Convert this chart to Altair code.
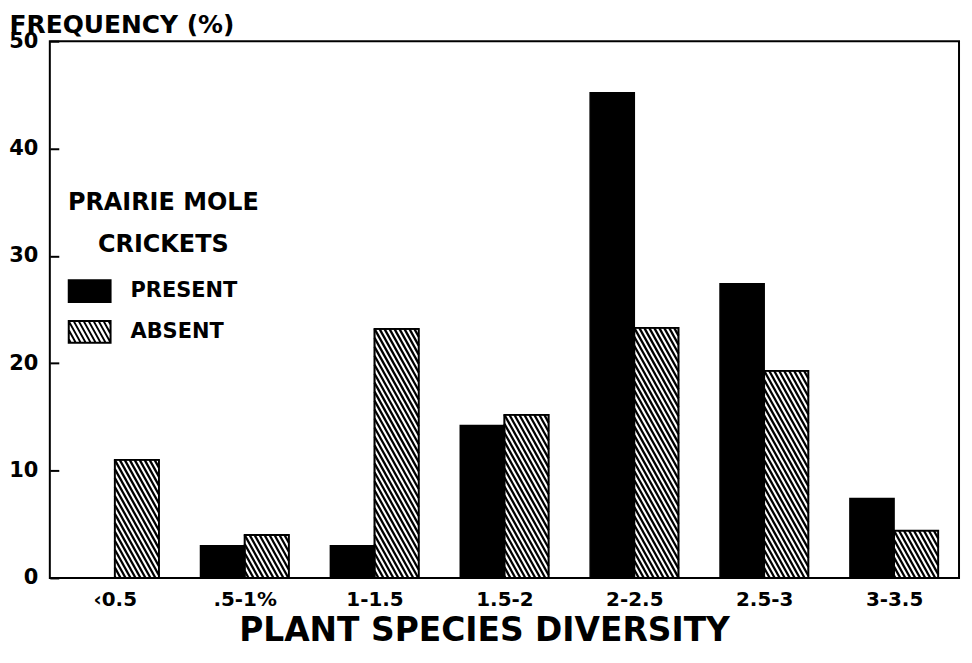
import json
import math
import altair as alt
import pandas as pd

# ---------------- data ----------------
categories = ["‹0.5", ".5-1%", "1-1.5", "1.5-2", "2-2.5", "2.5-3", "3-3.5"]
present = [0, 3, 3, 14.2, 45.2, 27.4, 7.4]
absent = [11, 4, 23.2, 15.2, 23.3, 19.3, 4.4]
groups = ["PRESENT", "ABSENT"]
y_ticks = [0, 10, 20, 30, 40, 50]

# ---------------- layout / style ----------------
W, H = 913, 539
Y_MAX = 50
BAR_START, BAR_MID, BAR_END = 0.16, 0.5, 0.84   # positions inside a category slot
PX_X = W / len(categories)
PX_Y = H / Y_MAX
HATCH_SPACING = 5.0   # px between stripes (horizontal)
HATCH_SLOPE = 1.8     # px down per px right
FONT = "DejaVu Sans"

rows = []
for i, cat in enumerate(categories):
    rows.append({"cat": cat, "group": "PRESENT", "value": present[i],
                 "x0": i + BAR_START, "x1": i + BAR_MID})
    rows.append({"cat": cat, "group": "ABSENT", "value": absent[i],
                 "x0": i + BAR_MID, "x1": i + BAR_END})
bars = pd.DataFrame(rows)


def hatch_segments(w, h, spacing, slope):
    """Stripe segments inside a w x h box (y down from top), in box units."""
    segs = []
    k0 = math.floor(-h / slope / spacing) - 1
    k1 = math.ceil(w / spacing) + 1
    for k in range(k0, k1 + 1):
        c = k * spacing
        ys = max(0.0, -slope * c)
        ye = min(h, slope * (w - c))
        if ye - ys > 0.3:
            segs.append((c + ys / slope, ys, c + ye / slope, ye))
    return segs


hatch_rows = []
for i, v in enumerate(absent):
    w_px = (BAR_END - BAR_MID) * PX_X
    h_px = v * PX_Y
    for xa, ya, xb, yb in hatch_segments(w_px, h_px, HATCH_SPACING, HATCH_SLOPE):
        hatch_rows.append({"hx": i + BAR_MID + xa / PX_X, "hy": v - ya / PX_Y,
                           "hx2": i + BAR_MID + xb / PX_X, "hy2": v - yb / PX_Y})
hatch = pd.DataFrame(hatch_rows)

# legend symbols (custom SVG paths in the [-1, 1] unit box)
HALF_H = 0.52
present_path = f"M-1,{-HALF_H}H1V{HALF_H}H-1Z"
unit = 21.0
leg_segs = hatch_segments(2 * unit, 2 * HALF_H * unit, HATCH_SPACING, HATCH_SLOPE)
absent_path = present_path + "".join(
    f"M{xa/unit-1:.3f},{ya/unit-HALF_H:.3f}L{xb/unit-1:.3f},{yb/unit-HALF_H:.3f}"
    for xa, ya, xb, yb in leg_segs)

legend_df = pd.DataFrame({"group": groups})

x_scale = alt.Scale(domain=[0, len(categories)], nice=False, zero=False)
y_scale = alt.Scale(domain=[0, Y_MAX], nice=False)

label_expr = f"{json.dumps(categories)}[floor(datum.value)]"

x_axis = alt.Axis(values=[i + 0.5 for i in range(len(categories))],
                  labelExpr=label_expr, ticks=False, domain=False, grid=False,
                  labelFont=FONT, labelFontSize=20, labelFontWeight="bold",
                  labelColor="black", labelPadding=12,
                  title="PLANT SPECIES DIVERSITY", titleFont=FONT,
                  titleFontSize=33, titleFontWeight="bold", titleColor="black",
                  titleBaseline="alphabetic", titleX=436, titleY=63)
y_axis = alt.Axis(values=y_ticks, offset=-9, tickSize=9, tickWidth=2,
                  tickColor="black", domain=False, grid=False,
                  labelFont=FONT, labelFontSize=21, labelFontWeight="bold",
                  labelColor="black", labelPadding=12,
                  title="FREQUENCY (%)", titleFont=FONT, titleFontSize=25,
                  titleFontWeight="bold", titleColor="black", titleAngle=0,
                  titleAlign="left", titleBaseline="alphabetic",
                  titleX=-50, titleY=-8.5)

base = alt.Chart(bars)

present_bars = base.transform_filter(alt.datum.group == "PRESENT").mark_bar(
    color="black", stroke="black", strokeWidth=1.5).encode(
    x=alt.X("x0:Q", scale=x_scale, axis=x_axis),
    x2="x1:Q",
    y=alt.Y("value:Q", scale=y_scale, axis=y_axis),
    y2=alt.datum(0),
)

absent_bars = base.transform_filter(alt.datum.group == "ABSENT").mark_bar(
    fill="white", stroke="black", strokeWidth=1.5).encode(
    x=alt.X("x0:Q", scale=x_scale), x2="x1:Q",
    y=alt.Y("value:Q", scale=y_scale), y2=alt.datum(0),
)

hatch_lines = alt.Chart(hatch).mark_rule(color="black", strokeWidth=2.3).encode(
    x=alt.X("hx:Q", scale=x_scale), x2="hx2:Q",
    y=alt.Y("hy:Q", scale=y_scale), y2="hy2:Q",
)

absent_outline = base.transform_filter(alt.datum.group == "ABSENT").mark_bar(
    fillOpacity=0, stroke="black", strokeWidth=1.8).encode(
    x=alt.X("x0:Q", scale=x_scale), x2="x1:Q",
    y=alt.Y("value:Q", scale=y_scale), y2=alt.datum(0),
)

legend = alt.Legend(
    orient="none", legendX=18, legendY=150,
    title=["PRAIRIE MOLE", "CRICKETS"], titleFont=FONT, titleFontSize=24,
    titleFontWeight="bold", titleColor="black", titleLineHeight=43,
    titleAlign="center", titleAnchor="middle", titlePadding=12,
    titleLimit=500,
    labelFont=FONT, labelFontSize=21, labelFontWeight="bold",
    labelColor="black", labelOffset=19, labelLimit=400, symbolSize=1764,
    symbolOffset=-21,
    symbolStrokeWidth=2, rowPadding=4, symbolOpacity=1,
)

legend_layer = alt.Chart(legend_df).mark_point(filled=True, opacity=0).encode(
    x=alt.value(0), y=alt.value(0),
    shape=alt.Shape("group:N", sort=groups, legend=legend,
                    scale=alt.Scale(domain=groups, range=[present_path, absent_path])),
    fill=alt.Fill("group:N", sort=groups, legend=legend,
                  scale=alt.Scale(domain=groups, range=["black", "white"])),
    stroke=alt.Stroke("group:N", sort=groups, legend=legend,
                      scale=alt.Scale(domain=groups, range=["black", "black"])),
)

chart = alt.layer(
    absent_bars, hatch_lines, absent_outline, present_bars, legend_layer
).properties(
    width=W, height=H,
    autosize=alt.AutoSizeParams(type="none"),
    padding={"left": 42, "top": 32, "right": 5, "bottom": 71},
).configure(
    background="white",
    view=alt.ViewConfig(stroke="black", strokeWidth=2),
)

chart.save("out.html", embed_options={"renderer": "svg", "actions": False})
